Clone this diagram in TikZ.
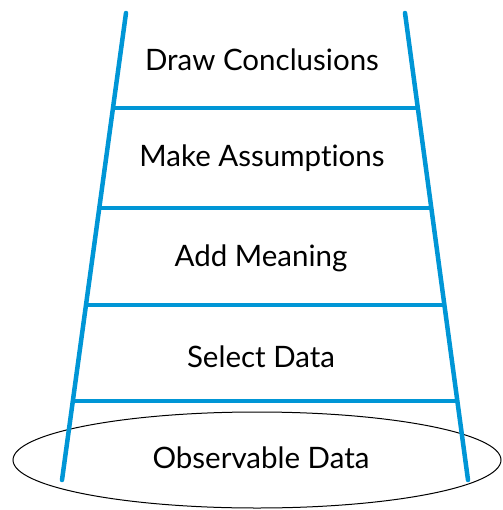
\documentclass[tikz,border=0pt]{standalone}
\usepackage{fontspec}
\setmainfont{Lato}[Ligatures=NoCommon]
\usetikzlibrary{shapes.geometric}
\definecolor{ladderblue}{RGB}{0,150,214}
\tikzset{
  rail/.style={draw=ladderblue, line width=4.5pt, line cap=round},
  rung/.style={draw=ladderblue, line width=4pt},
  steptext/.style={font=\fontsize{29.5}{34}\selectfont, text=black}
}
\begin{document}
\begin{tikzpicture}[x=1pt, y=-1pt]
        \useasboundingbox (0,0) rectangle (502,510);
        % Ladder rails
        \coordinate (ltop) at (126,13);
        \coordinate (lbot) at (62,480);
        \coordinate (rtop) at (405,13);
        \coordinate (rbot) at (468,480);

        % Base ellipse
        \node[draw, ellipse, line width=1pt, minimum width=488pt, minimum height=96pt, inner sep=0pt] (base) at (257,460) {};

        \draw[rail] (ltop) -- (lbot);
        \draw[rail] (rtop) -- (rbot);

        % Rungs
        \coordinate (l1) at (113,108);   \coordinate (r1) at (418,108);
        \coordinate (l2) at (99.5,208);  \coordinate (r2) at (431,208);
        \coordinate (l3) at (86,305);    \coordinate (r3) at (444,305);
        \coordinate (l4) at (73,401);    \coordinate (r4) at (457,401);
        \draw[rung] (l1) -- (r1);
        \draw[rung] (l2) -- (r2);
        \draw[rung] (l3) -- (r3);
        \draw[rung] (l4) -- (r4);

        % Labels
        \node[steptext] (conclusions) at (262,60) {Draw Conclusions};
        \node[steptext] (assumptions) at (262,158) {Make Assumptions};
        \node[steptext] (meaning) at (261,258) {Add Meaning};
        \node[steptext] (select) at (261,357) {Select Data};
        \node[steptext] (observable) at (261,458) {Observable Data};
    \end{tikzpicture}
\end{document}
